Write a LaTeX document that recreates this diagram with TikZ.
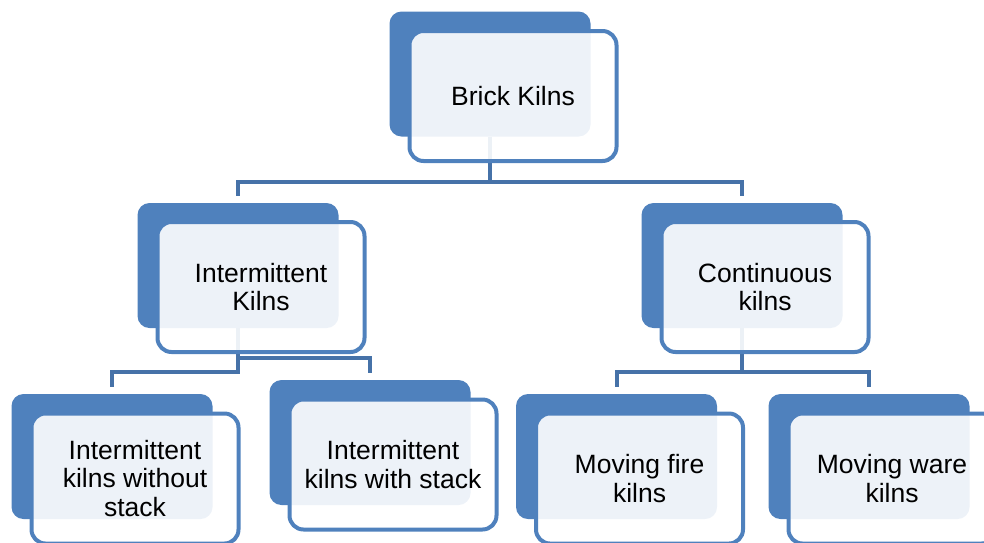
\documentclass[tikz,border=0pt]{standalone}
\usepackage{fontspec}
\setmainfont{Liberation Sans}
\definecolor{boxblue}{RGB}{79,129,189}
\definecolor{connblue}{RGB}{70,114,168}
\tikzset{
  backbox/.style={fill=boxblue, draw=none, rounded corners=12pt, minimum width=201pt, minimum height=125pt, inner sep=0pt},
  frontbox/.style={draw=boxblue, line width=4pt, fill=white, fill opacity=0.9, text opacity=1, rounded corners=14pt, minimum width=207pt, minimum height=130pt, align=center, font=\fontsize{26.5}{28.5}\selectfont, inner sep=0pt},
  conn/.style={draw=connblue, line width=4pt}
}
\begin{document}
\begin{tikzpicture}[x=1pt,y=-1pt]
\useasboundingbox (0,0) rectangle (984,542);
\clip (0,0) rectangle (984,542);
% back boxes
\node[backbox] (b0) at (490,74) {};
\node[backbox] (bIK) at (238,265.5) {};
\node[backbox] (bCK) at (742,265.5) {};
\node[backbox] (bB1) at (112,456.5) {};
\node[backbox] (bB2) at (370,442.5) {};
\node[backbox] (bB3) at (616.5,456.5) {};
\node[backbox] (bB4) at (869,456.5) {};
% connectors
\coordinate (h1) at (0,182);
\coordinate (h2) at (0,372);
\coordinate (h2b) at (0,358);
\draw[conn] (b0.south) -- (b0.south |- h1) -| ([yshift=7pt]bIK.north);
\draw[conn] (b0.south |- h1) -| ([yshift=7pt]bCK.north);
\draw[conn] (bIK.south) -- (bIK.south |- h2) -| ([yshift=7pt]bB1.north);
\draw[conn] (bIK.south |- h2b) -| ([yshift=7pt]bB2.north);
\draw[conn] (bCK.south) -- (bCK.south |- h2) -| ([yshift=7pt]bB3.north);
\draw[conn] (bCK.south |- h2) -| ([yshift=7pt]bB4.north);
% front boxes
\node[frontbox] (f0) at (513,96) {Brick Kilns};
\node[frontbox] (fIK) at (261,287) {Intermittent\\Kilns};
\node[frontbox] (fCK) at (765,287) {Continuous\\kilns};
\node[frontbox] (fB1) at (135,478.5) {Intermittent\\kilns without\\stack};
\node[frontbox] (fB2) at (393,464.5) {Intermittent\\kilns with stack};
\node[frontbox] (fB3) at (639.5,478.5) {Moving fire\\kilns};
\node[frontbox] (fB4) at (892,478.5) {Moving ware\\kilns};
\end{tikzpicture}
\end{document}
